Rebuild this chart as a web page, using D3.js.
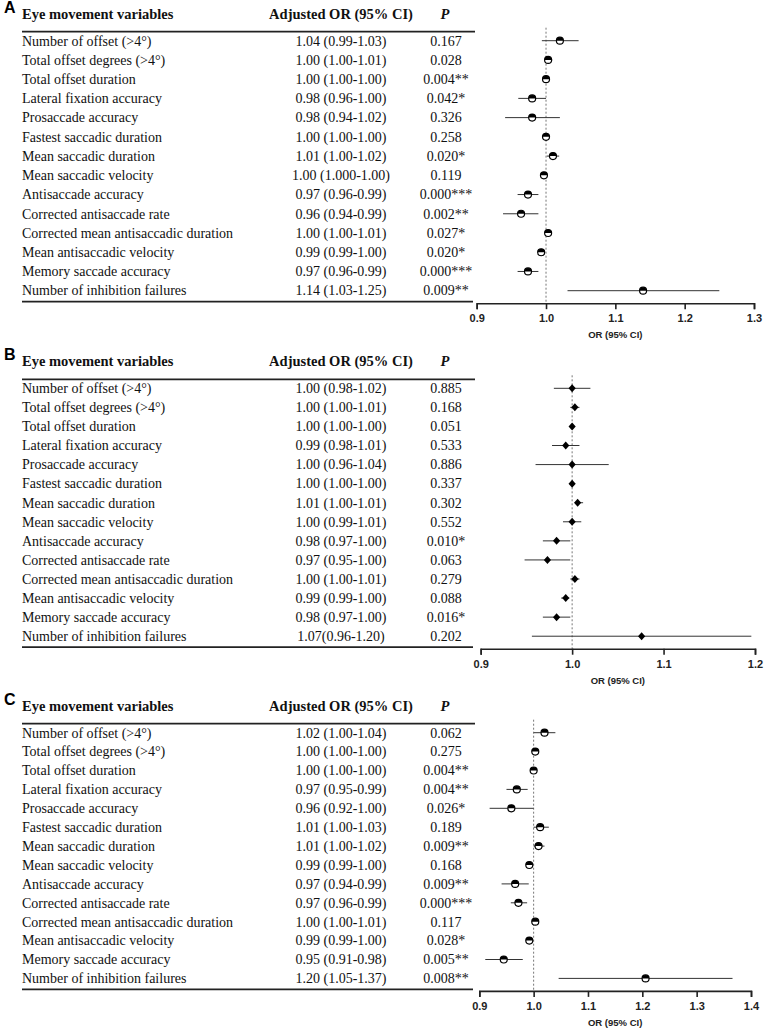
<!DOCTYPE html>
<html lang="en">
<head>
<meta charset="UTF-8">
<title>Forest plots of eye movement variables</title>
<script src="https://d3js.org/d3.v7.min.js"></script>
<style>
    body { margin: 0; background: #fff; }
    svg { display: block; }
    .tbl { font-family: "Liberation Serif", "Times New Roman", serif; font-size: 14px; fill: #111; }
    .hdr { font-weight: bold; font-size: 14.5px; }
    .panel-label { font-family: "Liberation Sans", Arial, sans-serif; font-weight: bold; font-size: 16px; }
    .tick-lbl { font-family: "Liberation Sans", Arial, sans-serif; font-weight: bold; font-size: 11px; fill: #222; }
    .ax-title { font-family: "Liberation Sans", Arial, sans-serif; font-weight: bold; font-size: 9.5px; fill: #222; }
</style>
</head>
<body>
<svg width="767" height="1030"></svg>
<script>
const variables = [
    "Number of offset (>4°)", "Total offset degrees (>4°)", "Total offset duration",
    "Lateral fixation accuracy", "Prosaccade accuracy", "Fastest saccadic duration",
    "Mean saccadic duration", "Mean saccadic velocity", "Antisaccade accuracy",
    "Corrected antisaccade rate", "Corrected mean antisaccadic duration",
    "Mean antisaccadic velocity", "Memory saccade accuracy", "Number of inhibition failures"
];

// panel A
const orTextA = ["1.04 (0.99-1.03)", "1.00 (1.00-1.01)", "1.00 (1.00-1.00)", "0.98 (0.96-1.00)",
    "0.98 (0.94-1.02)", "1.00 (1.00-1.00)", "1.01 (1.00-1.02)", "1.00 (1.000-1.00)", "0.97 (0.96-0.99)",
    "0.96 (0.94-0.99)", "1.00 (1.00-1.01)", "0.99 (0.99-1.00)", "0.97 (0.96-0.99)", "1.14 (1.03-1.25)"];
const pTextA = ["0.167", "0.028", "0.004**", "0.042*", "0.326", "0.258", "0.020*", "0.119",
    "0.000***", "0.002**", "0.027*", "0.020*", "0.000***", "0.009**"];
const estA = [1.020, 1.003, 1.000, 0.980, 0.980, 1.000, 1.010, 0.997, 0.974, 0.964, 1.003, 0.993, 0.974, 1.140];
const lowA = [0.994, 1.000, 0.999, 0.960, 0.941, 0.999, 1.001, 0.993, 0.959, 0.938, 1.000, 0.990, 0.959, 1.031];
const highA = [1.047, 1.009, 1.001, 1.000, 1.020, 1.001, 1.019, 1.002, 0.989, 0.989, 1.008, 0.996, 0.989, 1.250];
const ticksA = [0.9, 1.0, 1.1, 1.2, 1.3];

// panel B
const orTextB = ["1.00 (0.98-1.02)", "1.00 (1.00-1.01)", "1.00 (1.00-1.00)", "0.99 (0.98-1.01)",
    "1.00 (0.96-1.04)", "1.00 (1.00-1.00)", "1.01 (1.00-1.01)", "1.00 (0.99-1.01)", "0.98 (0.97-1.00)",
    "0.97 (0.95-1.00)", "1.00 (1.00-1.01)", "0.99 (0.99-1.00)", "0.98 (0.97-1.00)", "1.07(0.96-1.20)"];
const pTextB = ["0.885", "0.168", "0.051", "0.533", "0.886", "0.337", "0.302", "0.552",
    "0.010*", "0.063", "0.279", "0.088", "0.016*", "0.202"];
const estB = [1.000, 1.003, 1.000, 0.993, 1.000, 1.000, 1.006, 1.000, 0.983, 0.973, 1.003, 0.993, 0.983, 1.076];
const lowB = [0.980, 0.998, 0.999, 0.978, 0.960, 0.999, 1.003, 0.990, 0.968, 0.948, 0.998, 0.988, 0.968, 0.956];
const highB = [1.020, 1.008, 1.001, 1.008, 1.040, 1.001, 1.012, 1.010, 0.998, 0.998, 1.008, 0.997, 0.998, 1.196];
const ticksB = [0.9, 1.0, 1.1, 1.2];

// panel C
const orTextC = ["1.02 (1.00-1.04)", "1.00 (1.00-1.00)", "1.00 (1.00-1.00)", "0.97 (0.95-0.99)",
    "0.96 (0.92-1.00)", "1.01 (1.00-1.03)", "1.01 (1.00-1.02)", "0.99 (0.99-1.00)", "0.97 (0.94-0.99)",
    "0.97 (0.96-0.99)", "1.00 (1.00-1.01)", "0.99 (0.99-1.00)", "0.95 (0.91-0.98)", "1.20 (1.05-1.37)"];
const pTextC = ["0.062", "0.275", "0.004**", "0.004**", "0.026*", "0.189", "0.009**", "0.168",
    "0.009**", "0.000***", "0.117", "0.028*", "0.005**", "0.008**"];
const estC = [1.020, 1.003, 1.000, 0.969, 0.959, 1.012, 1.009, 0.992, 0.966, 0.972, 1.003, 0.992, 0.945, 1.206];
const lowC = [1.000, 1.000, 0.999, 0.950, 0.919, 1.000, 1.000, 0.990, 0.941, 0.958, 1.000, 0.990, 0.911, 1.046];
const highC = [1.040, 1.006, 1.001, 0.989, 1.000, 1.028, 1.020, 0.995, 0.991, 0.988, 1.006, 0.996, 0.980, 1.366];
const ticksC = [0.9, 1.0, 1.1, 1.2, 1.3, 1.4];

const svg = d3.select("svg");

const panels = [
    { label: "A", orText: orTextA, pText: pTextA, est: estA, low: lowA, high: highA, ticks: ticksA,
      marker: "half", row0: 40.7, rowStep: 19.23, x0: 476.7, x1: 754 },
    { label: "B", orText: orTextB, pText: pTextB, est: estB, low: lowB, high: highB, ticks: ticksB,
      marker: "diamond", row0: 388.3, rowStep: 19.07, x0: 480.7, x1: 755 },
    { label: "C", orText: orTextC, pText: pTextC, est: estC, low: lowC, high: highC, ticks: ticksC,
      marker: "half", row0: 732.7, rowStep: 18.9, x0: 479.3, x1: 751 }
];

panels.forEach(drawPanel);

function drawPanel(p) {
    const g = svg.append("g");
    const n = variables.length;
    const y = i => p.row0 + i * p.rowStep;
    const headY = p.row0 - 27;
    const lineTop = p.row0 - 9;
    const lineBot = y(n - 1) + 11;
    const axisY = lineBot + 1.5;

    const x = d3.scaleLinear()
        .domain([p.ticks[0], p.ticks[p.ticks.length - 1]])
        .range([p.x0, p.x1]);

    // panel letter
    g.append("text").attr("class", "panel-label")
        .attr("x", 4).attr("y", headY - 1).text(p.label);

    // table header
    g.append("text").attr("class", "tbl hdr").attr("x", 22).attr("y", headY + 5)
        .text("Eye movement variables");
    g.append("text").attr("class", "tbl hdr").attr("x", 341).attr("y", headY + 5)
        .attr("text-anchor", "middle").text("Adjusted OR (95% CI)");
    g.append("text").attr("class", "tbl hdr").attr("x", 445).attr("y", headY + 5)
        .attr("text-anchor", "middle").attr("font-style", "italic").text("P");

    g.append("line").attr("x1", 22).attr("x2", 475).attr("y1", lineTop).attr("y2", lineTop)
        .attr("stroke", "#222").attr("stroke-width", 1.8);
    g.append("line").attr("x1", 22).attr("x2", 473).attr("y1", lineBot).attr("y2", lineBot)
        .attr("stroke", "#222").attr("stroke-width", 1.8);

    // table rows
    const rows = g.append("g").selectAll("g")
        .data(variables)
        .enter().append("g")
        .attr("transform", (d, i) => `translate(0,${y(i) + 4.8})`);
    rows.append("text").attr("class", "tbl").attr("x", 22).text(d => d);
    rows.append("text").attr("class", "tbl").attr("x", 341).attr("text-anchor", "middle")
        .text((d, i) => p.orText[i]);
    rows.append("text").attr("class", "tbl").attr("x", 446).attr("text-anchor", "middle")
        .text((d, i) => p.pText[i]);

    // reference line at OR = 1
    g.append("line")
        .attr("x1", x(1)).attr("x2", x(1))
        .attr("y1", lineTop - 4).attr("y2", axisY)
        .attr("stroke", "#777").attr("stroke-width", 1)
        .attr("stroke-dasharray", "2,2");

    // axis
    const axis = d3.axisBottom(x).tickValues(p.ticks).tickSize(6).tickPadding(5)
        .tickFormat(d3.format(".1f"));
    const ax = g.append("g").attr("transform", `translate(0,${axisY})`).call(axis);
    ax.select(".domain").attr("stroke", "#222").attr("stroke-width", 1.6);
    ax.selectAll(".tick line").attr("stroke", "#222").attr("stroke-width", 1.6);
    ax.selectAll(".tick text").attr("class", "tick-lbl").attr("fill", "#222");
    g.append("text").attr("class", "ax-title")
        .attr("x", (p.x0 + p.x1) / 2).attr("y", axisY + 35)
        .attr("text-anchor", "middle").text("OR (95% CI)");

    // CI whiskers
    g.append("g").selectAll("line")
        .data(variables)
        .enter().append("line")
        .attr("x1", (d, i) => x(p.low[i]))
        .attr("x2", (d, i) => x(p.high[i]))
        .attr("y1", (d, i) => y(i)).attr("y2", (d, i) => y(i))
        .attr("stroke", "#333").attr("stroke-width", 1);

    // point estimates
    const pts = g.append("g").selectAll("g")
        .data(variables)
        .enter().append("g")
        .attr("transform", (d, i) => `translate(${x(p.est[i])},${y(i)})`);
    if (p.marker === "diamond") {
        pts.append("path").attr("d", "M0,-4L3.6,0L0,4L-3.6,0Z").attr("fill", "#000");
    } else {
        const r = 3.5;
        pts.append("circle").attr("r", r).attr("fill", "#fff")
            .attr("stroke", "#000").attr("stroke-width", 1.2);
        pts.append("path")
            .attr("d", `M${-r},0A${r},${r} 0 0 1 ${r},0Z`)
            .attr("fill", "#000");
    }
}
</script>
</body>
</html>
